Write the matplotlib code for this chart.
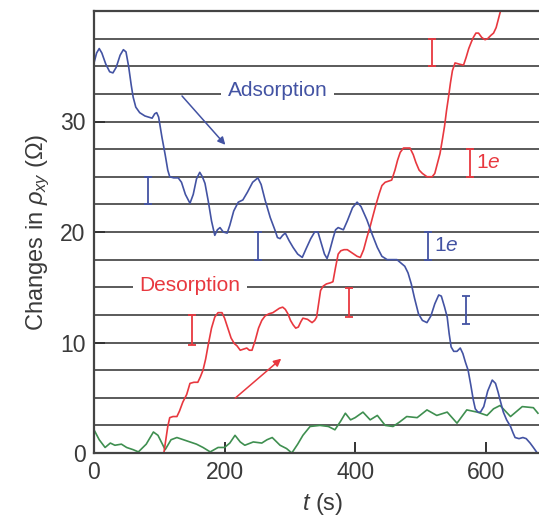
import numpy as np
import matplotlib
matplotlib.use('Agg')
import matplotlib.pyplot as plt
from matplotlib.ticker import MultipleLocator

plt.rcParams['font.family'] = ['Liberation Sans', 'DejaVu Sans']
plt.rcParams['mathtext.fontset'] = 'custom'
plt.rcParams['mathtext.rm'] = 'Liberation Sans'
plt.rcParams['mathtext.it'] = 'Liberation Sans:italic'

# adsorption (blue)
ads_t = [0, 4, 8, 12, 18, 24, 29, 34, 40, 45, 49, 53, 57, 60, 64, 70, 78, 89, 93, 96, 99, 104,
         109, 113, 116, 122, 129, 134, 140, 147, 152, 157, 162, 166, 170, 175, 180, 185, 189, 193,
         198, 204, 208, 214, 221, 228, 235, 243, 251, 256, 262, 270, 277, 281, 285, 289, 293, 299,
         305, 312, 319, 325, 332, 338, 343, 349, 353, 357, 361, 366, 370, 374, 382, 388, 396, 403,
         409, 418, 426, 434, 441, 449, 458, 464, 470, 476, 481, 486, 491, 497, 503, 510, 516, 522,
         528, 532, 537, 541, 544, 547, 551, 556, 561, 565, 569, 573, 577, 581, 584, 588, 592, 597,
         603, 610, 615, 619, 622, 627, 632, 638, 642, 645, 651, 657, 662, 668, 673, 679]
ads_y = [35.3, 36.2, 36.6, 36.2, 35.2, 34.5, 34.4, 34.9, 36.0, 36.5, 36.3, 35.0, 33.3, 32.2, 31.3,
         30.8, 30.5, 30.3, 30.7, 30.8, 30.4, 28.6, 27.0, 25.6, 25.0, 24.9, 24.9, 24.5, 23.4, 22.6,
         23.4, 24.8, 25.4, 25.0, 24.4, 22.8, 21.0, 19.7, 20.2, 20.4, 20.0, 19.9, 20.6, 21.9, 22.7,
         22.9, 23.6, 24.5, 24.9, 24.3, 22.9, 21.3, 20.2, 19.5, 19.4, 19.7, 19.9, 19.2, 18.6, 18.0,
         17.7, 18.5, 19.4, 20.0, 20.0, 18.8, 18.0, 17.6, 18.3, 19.4, 20.2, 20.4, 20.2, 21.0, 22.2,
         22.7, 22.3, 21.1, 19.8, 18.6, 17.8, 17.5, 17.5, 17.5, 17.2, 16.9, 16.3, 15.3, 14.0, 12.6,
         12.0, 11.8, 12.4, 13.5, 14.3, 14.2, 13.2, 12.3, 10.8, 9.6, 9.2, 9.2, 9.5, 9.0, 8.2, 7.5,
         6.2, 4.8, 4.0, 3.7, 3.7, 4.2, 5.6, 6.6, 6.3, 5.5, 4.8, 3.7, 3.0, 2.4, 1.8, 1.4, 1.3, 1.4,
         1.3, 0.9, 0.5, 0.0]

# desorption (red)
des_t = [107, 110, 113, 116, 121, 127, 131, 136, 142, 147, 153, 159, 163, 167, 171, 175, 180, 185,
         190, 196, 200, 205, 210, 215, 219, 224, 229, 234, 238, 242, 247, 252, 257, 262, 268, 274,
         279, 284, 289, 293, 297, 301, 305, 309, 313, 317, 320, 327, 334, 338, 341, 344, 347, 351,
         356, 362, 366, 370, 374, 378, 383, 388, 393, 398, 403, 408, 413, 418, 423, 427, 432, 437,
         441, 446, 451, 456, 461, 465, 469, 474, 480, 484, 489, 493, 498, 503, 510, 518, 522, 526,
         530, 534, 537, 540, 543, 546, 549, 553, 559, 566, 570, 574, 578, 581, 585, 589, 594, 599,
         603, 608, 612, 616, 620, 624]
des_y = [0.0, 1.2, 2.4, 3.2, 3.3, 3.3, 3.8, 4.6, 5.3, 6.3, 6.4, 6.4, 6.9, 7.5, 8.5, 9.8, 11.3, 12.3,
         12.7, 12.7, 12.2, 11.3, 10.4, 9.9, 9.7, 9.3, 9.4, 9.5, 9.3, 9.3, 10.2, 11.3, 12.0, 12.4,
         12.6, 12.7, 12.9, 13.1, 13.2, 13.0, 12.6, 12.0, 11.6, 11.3, 11.4, 11.9, 12.2, 12.1, 11.8,
         12.0, 12.3, 13.5, 14.7, 15.1, 15.3, 15.4, 15.5, 16.8, 18.0, 18.3, 18.4, 18.4, 18.2, 18.0,
         17.8, 17.7, 18.4, 19.5, 20.5, 21.4, 22.5, 23.5, 24.2, 24.5, 24.6, 24.7, 25.6, 26.5, 27.2,
         27.6, 27.6, 27.6, 27.0, 26.3, 25.6, 25.3, 25.0, 25.0, 25.3, 26.2, 27.1, 28.5, 29.6, 31.0,
         32.2, 33.5, 34.6, 35.3, 35.2, 35.1, 35.8, 36.6, 37.2, 37.6, 38.0, 38.0, 37.6, 37.4, 37.5,
         37.8, 38.0, 38.5, 39.4, 40.3]

# baseline (green)
base_t = [0, 8, 17, 25, 32, 42, 50, 60, 68, 80, 91, 98, 109, 118, 127, 137, 147, 157, 167, 178,
          190, 200, 208, 216, 224, 231, 244, 257, 265, 273, 285, 295, 303, 312, 320, 331, 346, 359,
          369, 378, 385, 393, 400, 412, 423, 434, 446, 458, 468, 479, 495, 510, 525, 541, 556, 571,
          587, 602, 612, 622, 638, 648, 656, 673, 680]
base_y = [2.1, 1.2, 0.5, 0.9, 0.7, 0.8, 0.5, 0.3, 0.1, 0.8, 1.9, 1.6, 0.3, 1.2, 1.4, 1.2, 1.0, 0.8,
          0.5, 0.1, 0.5, 0.5, 0.9, 1.6, 1.0, 0.7, 1.0, 0.9, 1.2, 1.4, 0.7, 0.4, 0.0, 0.8, 1.6, 2.4,
          2.5, 2.4, 2.1, 2.9, 3.6, 3.0, 3.2, 3.7, 3.0, 3.4, 2.5, 2.4, 2.8, 3.3, 3.2, 3.9, 3.4, 3.7,
          2.7, 3.9, 3.7, 3.4, 4.0, 4.3, 3.3, 3.8, 4.2, 4.1, 3.6]

# 1e scale bars: t, bottom, top
ads_bar_t = [83, 251, 512, 570]
ads_bar_lo = [22.5, 17.5, 17.5, 11.7]
ads_bar_hi = [25.0, 20.0, 20.0, 14.2]
des_bar_t = [150, 391, 576, 518]
des_bar_lo = [9.8, 12.3, 25.0, 35.0]
des_bar_hi = [12.5, 14.9, 27.5, 37.5]

blue = '#4353a3'
red = '#e8383f'
green = '#3f8f50'
gray = '#5a5a5a'

fig = plt.figure(figsize=(5.39, 5.22), dpi=100)
ax = fig.add_axes([94 / 539, 69 / 522, 457 / 539, 442 / 522])

ax.set_xlim(0, 700)
ax.set_ylim(0, 40)
ax.yaxis.set_minor_locator(MultipleLocator(2.5))
ax.grid(which='both', axis='y', color=gray, lw=1.4)
ax.set_axisbelow(True)

ax.plot(base_t, base_y, color=green, lw=1.2, solid_joinstyle='round')
ax.plot(des_t, des_y, color=red, lw=1.2, solid_joinstyle='round')
ax.plot(ads_t, ads_y, color=blue, lw=1.2, solid_joinstyle='round')

for t, lo, hi in zip(ads_bar_t, ads_bar_lo, ads_bar_hi):
    ax.errorbar(t, (lo + hi) / 2, yerr=(hi - lo) / 2, fmt='none', ecolor=blue, elinewidth=1.3,
                capsize=3, capthick=1.3)
for t, lo, hi in zip(des_bar_t, des_bar_lo, des_bar_hi):
    ax.errorbar(t, (lo + hi) / 2, yerr=(hi - lo) / 2, fmt='none', ecolor=red, elinewidth=1.3,
                capsize=3, capthick=1.3)

ax.text(521, 18.8, '1$\\it{e}$', color=blue, fontsize=15, va='center', ha='left')
ax.text(585, 26.3, '1$\\it{e}$', color=red, fontsize=15, va='center', ha='left')

box = dict(facecolor='white', edgecolor='none', pad=5)
ax.text(281, 32.8, 'Adsorption', color=blue, fontsize=15, ha='center', va='center', bbox=box)
ax.text(147, 15.2, 'Desorption', color=red, fontsize=15, ha='center', va='center', bbox=box)

ax.annotate('', xy=(204, 27.7), xytext=(132, 32.5),
            arrowprops=dict(arrowstyle='-|>', color=blue, lw=1.1, mutation_scale=11))
ax.annotate('', xy=(290, 8.7), xytext=(213, 4.8),
            arrowprops=dict(arrowstyle='-|>', color=red, lw=1.1, mutation_scale=11))

ax.set_xticks([0, 200, 400, 600])
ax.set_yticks([0, 10, 20, 30])
ax.tick_params(which='major', direction='in', length=8, width=1.4, color='#333333',
               labelsize=16.5, labelcolor='#3a3a3a', pad=6)
ax.tick_params(which='minor', length=0)
for s in ax.spines.values():
    s.set_color('#444444')
    s.set_linewidth(1.6)

ax.set_ylabel('Changes in $\\rho_{xy}$ ($\\Omega$)', fontsize=17, color='#3a3a3a', labelpad=6)
ax.set_xlabel('$t$ (s)', fontsize=17, color='#3a3a3a', labelpad=5)

fig.savefig('out.png', dpi=100)
